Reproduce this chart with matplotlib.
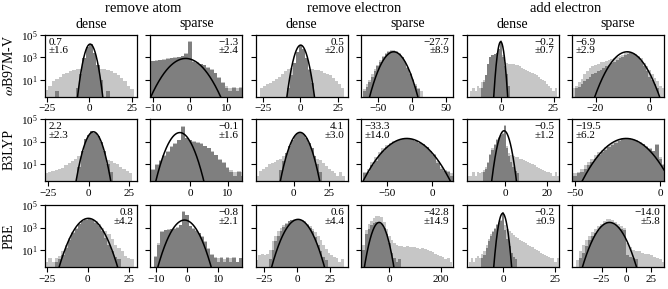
import numpy as np
import matplotlib
matplotlib.use("Agg")
import matplotlib.pyplot as plt

plt.rcParams['font.family'] = 'serif'
plt.rcParams['font.serif'] = ['Liberation Serif', 'DejaVu Serif']
plt.rcParams['mathtext.fontset'] = 'stix'
plt.rcParams['axes.linewidth'] = 0.9

# ==========================================
# Data (histogram heights read as log10(count); -1 means empty bin)
# ==========================================
methods = [r'$\omega$B97M-V', 'B3LYP', 'PBE']
tasks = ['remove atom', 'remove electron', 'add electron']
subsets = ['dense', 'sparse']

mean_err = [[0.7, -1.3, 0.5, -27.7, -0.2, -6.9],
            [2.2, -0.1, 4.1, -33.3, -0.5, -19.5],
            [0.8, -0.8, 0.6, -42.8, -0.2, -14.0]]
std_err = [[1.6, 2.4, 2.0, 8.9, 0.7, 2.9],
           [2.3, 1.6, 3.0, 14.0, 1.2, 6.2],
           [4.2, 2.1, 4.4, 14.9, 0.9, 5.8]]
text_left = [[True, False, False, False, False, True],
             [True, False, False, True, False, True],
             [False, False, False, False, False, False]]

xlims = [[(-26, 28), (-10.7, 14.3), (-29.5, 31.6), (-74.5, 61), (-16.3, 27.4), (-28.7, 5.3)],
         [(-27, 30), (-10.7, 14), (-26.5, 38), (-78, 23), (-18.3, 25.4), (-51.8, 2.2)],
         [(-26, 30), (-11.7, 17.7), (-31, 38), (-110, 249), (-17.6, 26.5), (-54.8, 38)]]
xticks = [[[-25, 0, 25], [-10, 0, 10], [-25, 0, 25], [-50, 0, 50], [0, 25], [-20, 0]],
          [[-25, 0, 25], [0, 10], [0, 25], [-50, 0], [0, 20], [-50, 0]],
          [[-25, 0, 25], [-10, 0, 10], [-25, 0, 25], [0, 200], [0, 25], [-25, 0, 25]]]

# fitted normal curve: centre, width, peak (log10)
fit_mu = [[0.5, -1.1, 0.3, -26.6, -0.1, -8.3],
          [3.0, -2.8, 4.5, -28.0, -0.5, -20.0],
          [0.4, -0.8, 0.7, -40.0, -0.3, -17.0]]
fit_sigma = [[1.6, 2.4, 2.0, 8.3, 0.7, 2.8],
             [2.4, 1.45, 3.1, 11.5, 1.3, 6.2],
             [4.0, 1.95, 4.5, 13.5, 0.92, 6.4]]
fit_peak = [[4.17, 2.9, 4.08, 3.49, 4.38, 3.49],
            [3.87, 3.8, 3.82, 3.28, 3.96, 3.28],
            [3.82, 3.67, 3.73, 3.46, 4.26, 3.46]]

# histogram bins: (first edge, bin width)
bins = [[(-26, 2), (-10.5, 1), (-29, 2), (-72, 4), (-15.5, 1), (-28.5, 1)],
        [(-27, 2), (-10.5, 1), (-26, 2), (-76, 4), (-17.5, 1), (-51, 2)],
        [(-26, 2), (-11.5, 1), (-31, 2), (-105, 10), (-17.5, 1), (-51, 3)]]

light_00 = [0.1, 0.5, 0.9, 1.1, 1.3, 1.5, 1.65, 1.8, 1.9, 1.95, 2.0, 2.0, 2.0, 2.0,
            2.0, 2.0, 2.0, 1.95, 1.85, 1.75, 1.6, 1.4, 1.15, 0.9, 0.5, 0.2, -1]
dark_00 = [-1, -1, -1, 0, -1, -1, -1, -1, -1, 0.3, 1.5, 2.9, 3.9, 4.2,
           3.4, 2.3, 1.0, -1, 0, -1, -1, -1, -1, -1, -1, -1, -1]
light_01 = [2.7, 2.75, 2.8, 2.85, 2.9, 2.95, 3.0, 3.05, 3.15, 3.35, 4.4, 2.65, 2.55,
            2.45, 2.35, 2.15, 1.95, 1.65, 1.3, 0.8, 0.5, 0.3, 0.4, 0.3, 0.4]
dark_01 = [2.65, 2.7, 2.75, 2.8, 2.85, 2.9, 2.95, 3.0, 3.1, 3.3, 4.35, 2.6, 2.5,
           2.4, 2.3, 2.1, 1.9, 1.6, 1.2, 0.7, 0.3, 0, 0.3, 0, 0.3]
light_02 = [-1, 0.3, 0.5, 0.6, 0.7, 0.9, 1.1, 1.3, 1.5, 1.8, 2.0, 2.05, 2.1, 2.1, 2.1,
            2.1, 2.05, 2.0, 1.95, 1.9, 1.85, 1.75, 1.65, 1.5, 1.4, 1.2, 0.9, 0.6, 0.3, -1]
dark_02 = [-1, -1, -1, -1, -1, -1, -1, -1, -1, -1, 0.3, 1.4, 2.5, 3.5, 4.05,
           3.7, 2.9, 1.9, 0.7, -1, -1, -1, -1, -1, -1, -1, -1, -1, -1, -1]
light_03 = [0.2, 0.6, 1.0, 1.5, 2.0, 2.35, 2.75, 3.1, 3.4, 3.6, 3.65, 3.65, 3.55,
            3.35, 3.05, 2.65, 2.15, 1.6, 1.1, 0.6, 0.3, 0]
dark_03 = [0, 0.4, 0.8, 1.3, 1.8, 2.2, 2.6, 3.0, 3.3, 3.5, 3.6, 3.6, 3.5,
           3.3, 3.0, 2.6, 2.1, 1.5, 1.0, 0.5, 0.2, -1]
light_04 = [-1, 0, 0.3, 0, 0.5, 0.3, 0.8, 1.0, 1.3, 1.6, 2.0, 2.4, 2.7, 3.0, 3.5,
            4.5,
            3.2, 2.6, 2.5, 2.45, 2.4, 2.4, 2.35, 2.3, 2.2, 2.1, 2.0, 1.9, 1.8, 1.7,
            1.6, 1.5, 1.4, 1.3, 1.1, 1.0, 0.9, 0.6, 0.5, 0.3, 0, 0.3]
dark_04 = [-1, -1, -1, -1, -1, -1, 0.3, 0.8, 1.4, 2.4, 3.0, 3.2, 3.3, 3.4, 3.7,
           4.45,
           3.0, 2.2, 1.5, 0.5, -1, -1, -1, -1, -1, -1, -1, -1, -1, -1,
           -1, -1, -1, -1, -1, -1, -1, -1, -1, -1, -1, -1]
light_05 = [0.3, 0.5, 0.8, 1.1, 1.5, 1.8, 2.1, 2.25, 2.35, 2.45, 2.55, 2.6, 2.7, 2.75,
            2.85, 2.9, 3.0, 3.1, 3.2, 3.35, 3.45, 3.45, 3.35, 3.25, 3.15, 2.9, 2.5,
            2.2, 1.9, 1.5, 1.2, 0.9, 0.5, 0.3]
dark_05 = [-1, 0.3, 0.4, 0.6, 0.9, 1.1, 1.3, 1.5, 1.6, 1.75, 1.9, 2.05, 2.2, 2.35,
           2.5, 2.6, 2.75, 2.9, 3.05, 3.2, 3.3, 3.35, 3.3, 3.2, 3.05, 2.7, 2.2,
           1.8, 1.3, 1.0, 0.6, 0.3, -1, -1]

light_10 = [0.2, 0.3, 0.4, 0.5, 0.6, 0.7, 0.9, 1.1, 1.3, 1.5, 1.7, 1.8, 2.0, 2.1,
            2.2, 2.2, 2.1, 1.9, 1.6, 1.4, 1.3, 1.1, 1.0, 0.8, 0.6, 0.4, 0.2, -1]
dark_10 = [-1, -1, -1, -1, -1, -1, -1, -1, -1, -1, 0.8, 2.2, 3.2, 3.6,
           3.95, 3.8, 3.5, 3.0, 2.2, 1.0, 0.3, -1, -1, -1, -1, -1, -1, -1]
light_11 = [0.6, 1.0, 1.4, 1.8, 2.2, 2.6, 2.9, 3.15, 4.35, 3.35, 3.15, 3.05, 2.95,
            2.85, 2.65, 2.45, 2.15, 1.85, 1.5, 1.2, 0.8, 0.5, 0.3, 0.4, 0.3]
dark_11 = [0.5, 0.9, 1.3, 1.7, 2.1, 2.5, 2.8, 3.1, 4.3, 3.3, 3.1, 3.0, 2.9,
           2.8, 2.6, 2.4, 2.1, 1.8, 1.4, 1.1, 0.7, 0.3, 0, 0.3, 0]
light_12 = [0, 0.4, 0.6, 0.8, 1.0, 1.1, 1.2, 1.35, 1.5, 1.7, 1.9, 2.1, 2.3, 2.4, 2.5, 2.5,
            2.4, 2.3, 2.1, 1.9, 1.7, 1.5, 1.35, 1.1, 0.85, 0.6, 0.4, 0.2, 0, 0.3, 0, -1]
dark_12 = [-1, -1, -1, -1, -1, -1, -1, -1, 0.5, 1.3, 2.0, 2.6, 3.1, 3.5, 3.75, 3.8,
           3.65, 3.35, 2.9, 2.4, 1.7, 1.0, 0.3, -1, -1, -1, -1, -1, -1, -1, -1, -1]
light_13 = [0.3, 0.6, 1.2, 1.6, 2.1, 2.45, 2.7, 2.9, 3.05, 3.15, 3.25, 3.3, 3.3,
            3.2, 3.05, 2.9, 2.75, 2.55, 2.2, 1.9, 1.3, 0.8, 0.5, 0.4, 0.2]
dark_13 = [0.2, 0.3, 0.9, 1.3, 1.8, 2.2, 2.5, 2.75, 2.95, 3.1, 3.2, 3.3, 3.3,
           3.2, 3.05, 2.9, 2.75, 2.55, 2.2, 1.8, 1.1, 0.6, 0.4, 0.3, 0]
light_14 = [0, 0, 0.3, 0, 0.3, 0.2, 0.3, 0.5, 0.8, 1.2, 1.9, 2.4, 2.8, 3.2, 3.4, 3.6, 3.75,
            4.45,
            2.6, 2.0, 1.8, 1.7, 1.65, 1.6, 1.5, 1.45, 1.4, 1.3, 1.2, 1.1, 1.0,
            0.9, 0.8, 0.7, 0.6, 0.5, 0.4, 0.3, 0.3, 0.2, 0, 0.3, 0]
dark_14 = [-1, -1, -1, -1, -1, -1, -1, 0.3, 0.6, 1.1, 1.8, 2.3, 2.7, 3.1, 3.35, 3.55, 3.7,
           4.4,
           2.4, 1.7, 1.2, 0.8, 0.4, 0.2, -1, -1, -1, -1, -1, -1, -1,
           -1, -1, -1, -1, -1, -1, -1, -1, -1, -1, -1, -1]
light_15 = [0.2, 0.3, 0.6, 0.9, 1.2, 1.5, 1.8, 2.05, 2.3, 2.5, 2.7, 2.9, 3.05, 3.2,
            3.3, 3.35, 3.3, 3.2, 3.1, 2.95, 2.8, 2.6, 2.4, 2.2, 2.8, 1.6, 1.0]
dark_15 = [0, 0.2, 0.3, 0.6, 0.9, 1.2, 1.5, 1.8, 2.05, 2.3, 2.5, 2.7, 2.9, 3.05,
           3.2, 3.25, 3.25, 3.15, 3.05, 2.9, 2.75, 2.55, 2.35, 2.15, 2.7, 1.5, 0.9]

light_20 = [0, 0.3, 0, 0.3, 0.5, 0.9, 1.5, 2.1, 2.6, 3.0, 3.35, 3.6, 3.75, 3.8,
            3.75, 3.6, 3.35, 3.0, 2.7, 2.4, 2.0, 1.5, 1.2, 0.9, 0.5, 0.3, 0.2, -1]
dark_20 = [-1, -1, -1, 0, 0.2, 0.6, 1.2, 1.9, 2.5, 2.9, 3.3, 3.55, 3.7, 3.75,
           3.65, 3.45, 3.1, 2.7, 2.1, 1.5, 0.9, 0.4, 0.2, -1, -1, -1, -1, -1]
light_21 = [-1, 0.5, 1.6, 2.7, 2.8, 2.85, 2.9, 2.95, 3.05, 3.25, 4.45, 4.15, 3.15, 2.95,
            2.75, 2.55, 2.25, 1.8, 1.2, 0.7, 0.4, 0.3, 0.4, 0.2, 0.4, 0.3, 0.4, 0, 0.3]
dark_21 = [-1, 0.4, 1.5, 2.6, 2.75, 2.8, 2.85, 2.9, 3.0, 3.2, 4.4, 4.1, 3.1, 2.9,
           2.7, 2.5, 2.2, 1.7, 1.1, 0.6, 0.3, 0, 0.3, 0, 0.3, 0, 0.3, 0, 0.3]
light_22 = [0.1, 0.6, 0.7, 0.6, 0.7, 1.0, 1.8, 2.3, 2.7, 3.0, 3.25, 3.45, 3.6, 3.7, 3.75,
            3.78, 3.75, 3.7, 3.55, 3.35, 3.1, 2.85, 2.6, 2.3, 1.9, 1.5, 1.1, 0.8, 0.6,
            0.4, 0.3, 0, 0.2, -1]
dark_22 = [-1, -1, -1, -1, -1, 0.2, 1.0, 1.8, 2.3, 2.7, 3.05, 3.35, 3.55, 3.65, 3.7,
           3.72, 3.7, 3.6, 3.45, 3.2, 2.95, 2.7, 2.2, 1.5, 0.9, 0.4, 0.1, -1, -1,
           -1, -1, -1, -1, -1]
light_23 = [1.5, 2.8, 3.3, 3.6, 3.85, 4.0, 4.05, 3.9, 3.5, 2.9, 2.3, 1.9, 1.6, 1.45,
            1.4, 1.35, 1.3, 1.35, 1.3, 1.25, 1.3, 1.2, 1.15, 1.2, 1.1, 1.0, 0.9, 0.85,
            0.7, 0.6, 0.5, 0.4, 0.2, 0.3, 0]
dark_23 = [1.0, 2.4, 2.9, 3.2, 3.4, 3.5, 3.5, 3.35, 3.0, 2.4, 1.6, 0.8, 0.3, 0,
           0.2, -1, -1, -1, -1, -1, -1, -1, -1, -1, -1, -1, -1, -1,
           -1, -1, -1, -1, -1, -1, -1]
light_24 = [-1, 0, 0.3, 0, 0.3, 0.5, 0.3, 0.7, 0.9, 1.5, 2.0, 2.4, 2.7, 3.0, 3.3, 3.5, 3.7,
            4.4,
            3.2, 2.9, 2.7, 2.5, 2.35, 2.2, 2.05, 1.9, 1.8, 1.7, 1.6, 1.5, 1.4,
            1.25, 1.15, 1.0, 0.9, 0.8, 0.7, 0.6, 0.5, 0.4, 0.3, 0.3, 0, 0.3]
dark_24 = [-1, -1, -1, -1, -1, -1, -1, 0.3, 0.6, 1.2, 1.8, 2.3, 2.6, 2.9, 3.2, 3.4, 3.6,
           4.35,
           2.8, 2.0, 1.4, 0.8, 0.4, 0.2, -1, -1, -1, -1, -1, -1, -1,
           -1, -1, -1, -1, -1, -1, -1, -1, -1, -1, -1, -1, -1]
light_25 = [0.1, 0.9, 1.5, 1.9, 2.3, 2.6, 2.85, 3.1, 3.35, 3.55, 3.75, 3.8, 3.7, 3.5,
            3.3, 3.15, 3.0, 1.6, 1.3, 1.0, 0.9, 0.9, 0.8, 0.7, 0.7, 0.6, 0.4, 0.3, 0.2, 0]
dark_25 = [-1, 0.3, 0.8, 1.4, 1.9, 2.3, 2.55, 2.8, 3.1, 3.3, 3.5, 3.5, 3.4, 3.2,
           3.05, 2.9, 2.8, 0.6, 0.4, 0.3, 0.2, -1, -1, -1, -1, -1, -1, -1, -1, -1]

light = [[light_00, light_01, light_02, light_03, light_04, light_05],
         [light_10, light_11, light_12, light_13, light_14, light_15],
         [light_20, light_21, light_22, light_23, light_24, light_25]]
dark = [[dark_00, dark_01, dark_02, dark_03, dark_04, dark_05],
        [dark_10, dark_11, dark_12, dark_13, dark_14, dark_15],
        [dark_20, dark_21, dark_22, dark_23, dark_24, dark_25]]

# ==========================================
# Layout (pixels of a 668x289 canvas)
# ==========================================
W, H = 668, 289
fig = plt.figure(figsize=(W / 100, H / 100), dpi=100)
row_top = [34.7, 119, 205]
ax_w, ax_h = 92, 62
col_left = [45 + 105.4 * j for j in range(6)]

c_light = '#c6c6c6'
c_dark = '#7f7f7f'


def to_counts(h):
    h = np.asarray(h, dtype=float)
    return np.where(h < -0.5, 0.0, 10.0 ** h)


for i in range(3):
    for j in range(6):
        ax = fig.add_axes([col_left[j] / W, 1 - (row_top[i] + ax_h) / H, ax_w / W, ax_h / H])
        start, width = bins[i][j]
        lh = to_counts(light[i][j])
        dh = to_counts(dark[i][j])
        edges = start + width * np.arange(len(lh) + 1)

        ax.bar(edges[:-1], lh, width=width, align='edge', color=c_light, linewidth=0, zorder=1)
        ax.bar(edges[:-1], dh, width=width, align='edge', color=c_dark, linewidth=0, zorder=2)

        xx = np.linspace(xlims[i][j][0], xlims[i][j][1], 600)
        yy = 10 ** fit_peak[i][j] * np.exp(-(xx - fit_mu[i][j]) ** 2 / (2 * fit_sigma[i][j] ** 2))
        ax.plot(xx, yy, color='black', lw=1.1, zorder=3)

        ax.set_yscale('log')
        ax.set_ylim(0.33, 1e5)
        ax.set_xlim(*xlims[i][j])
        ax.set_yticks([1e1, 1e3, 1e5])
        ax.minorticks_off()
        ax.set_xticks(xticks[i][j])
        ax.tick_params(labelsize=8, length=3.5, width=0.8, pad=2)
        if j > 0:
            ax.set_yticklabels([])

        txt = f"{mean_err[i][j]:.1f}\n±{std_err[i][j]:.1f}".replace('-', '\u2212')
        if text_left[i][j]:
            ax.text(0.04, 0.95, txt, transform=ax.transAxes, ha='left', va='top',
                    fontsize=8, linespacing=0.95, zorder=4)
        else:
            ax.text(0.96, 0.95, txt, transform=ax.transAxes, ha='right', va='top',
                    fontsize=8, linespacing=0.95, multialignment='right', zorder=4)

# column headers
for k, task in enumerate(tasks):
    cx = (col_left[2 * k] + col_left[2 * k + 1] + ax_w) / 2
    fig.text(cx / W, 1 - 8 / H, task, ha='center', va='center', fontsize=10.5)
    for s, sub in enumerate(subsets):
        sx = col_left[2 * k + s] + ax_w / 2
        fig.text(sx / W, 1 - 24 / H, sub, ha='center', va='center', fontsize=10)

# row labels
for i, m in enumerate(methods):
    cy = row_top[i] + ax_h / 2
    fig.text(9 / W, 1 - cy / H, m, ha='center', va='center', rotation=90, fontsize=10)

fig.savefig('out.png', dpi=100)
